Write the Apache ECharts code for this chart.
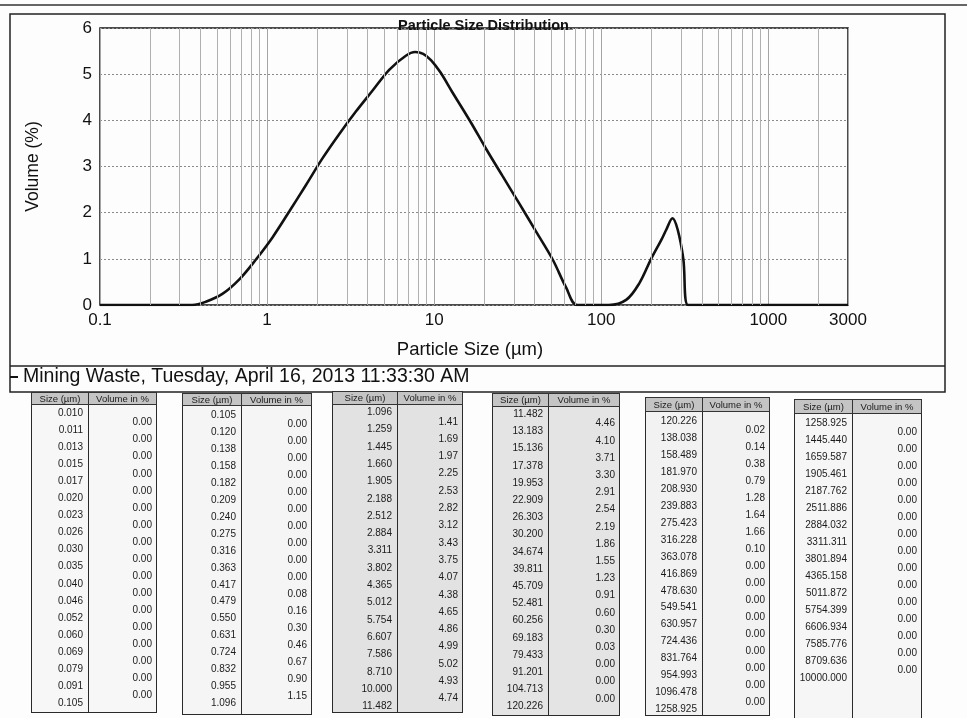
<!DOCTYPE html>
<html>
<head>
<meta charset="utf-8">
<script src="https://cdn.jsdelivr.net/npm/echarts@6/dist/echarts.min.js"></script>
<style>
html,body{margin:0;padding:0;background:#fdfdfd;width:967px;height:718px;overflow:hidden;}
#chart{position:absolute;left:0;top:0;width:967px;height:718px;}
.tbl{position:absolute;font-family:"Liberation Sans",Arial,sans-serif;color:#1a1a1a;}
.hd{position:absolute;background:#c4c4c4;border:1px solid #333;box-sizing:border-box;font-size:9.5px;text-align:center;white-space:nowrap;color:#1a1a1a;}
.bd{position:absolute;border:1.5px solid #2a2a2a;box-sizing:border-box;}
.dv{position:absolute;top:0;bottom:0;width:0;border-left:1.5px solid #2a2a2a;}
.tx{position:absolute;font-size:10px;line-height:12px;text-align:right;white-space:nowrap;}
</style>
</head>
<body>
<div id="chart"></div>
<div id="tables"></div>
<script>
// ---- curve ----
const curveSize = [0.1, 0.357, 0.43, 0.54, 0.68, 0.855, 1.08, 1.36, 1.71, 2.14, 2.70, 3.40, 4.27, 5.4, 6.77, 7.7, 8.6, 9.6, 10.9, 12.8, 16.5, 20.4, 25.7, 32.3, 40.6, 51.3, 61.6, 72, 111, 141, 169, 199, 229, 245, 267, 287, 310, 331, 3000];
const curveVolume = [0, 0, 0.07, 0.24, 0.55, 0.98, 1.47, 2.03, 2.60, 3.17, 3.70, 4.19, 4.64, 5.10, 5.40, 5.48, 5.44, 5.30, 5.04, 4.62, 3.97, 3.39, 2.79, 2.20, 1.60, 0.98, 0.38, 0, 0, 0.11, 0.47, 1.0, 1.41, 1.63, 1.88, 1.63, 1.0, 0, 0];

// ---- axis ticks ----
const xTickLabels = [0.1, 1, 10, 100, 1000, 3000];
const yTickLabels = [0, 1, 2, 3, 4, 5, 6];
const minorGrid = [0.2,0.3,0.4,0.5,0.6,0.7,0.8,0.9, 2,3,4,5,6,7,8,9, 20,30,40,50,60,70,80,90, 200,300,400,500,600,700,800,900, 2000];

// ---- result table (bin edges and volume per bin) ----
const binEdges = [
 "0.010","0.011","0.013","0.015","0.017","0.020","0.023","0.026","0.030","0.035","0.040","0.046","0.052","0.060","0.069","0.079","0.091",
 "0.105","0.120","0.138","0.158","0.182","0.209","0.240","0.275","0.316","0.363","0.417","0.479","0.550","0.631","0.724","0.832","0.955",
 "1.096","1.259","1.445","1.660","1.905","2.188","2.512","2.884","3.311","3.802","4.365","5.012","5.754","6.607","7.586","8.710","10.000",
 "11.482","13.183","15.136","17.378","19.953","22.909","26.303","30.200","34.674","39.811","45.709","52.481","60.256","69.183","79.433","91.201","104.713",
 "120.226","138.038","158.489","181.970","208.930","239.883","275.423","316.228","363.078","416.869","478.630","549.541","630.957","724.436","831.764","954.993","1096.478",
 "1258.925","1445.440","1659.587","1905.461","2187.762","2511.886","2884.032","3311.311","3801.894","4365.158","5011.872","5754.399","6606.934","7585.776","8709.636","10000.000"
];
const binVolumes = [
 0,0,0,0,0,0,0,0,0,0,0,0,0,0,0,0,0,
 0,0,0,0,0,0,0,0,0,0,0.08,0.16,0.30,0.46,0.67,0.90,1.15,
 1.41,1.69,1.97,2.25,2.53,2.82,3.12,3.43,3.75,4.07,4.38,4.65,4.86,4.99,5.02,4.93,4.74,
 4.46,4.10,3.71,3.30,2.91,2.54,2.19,1.86,1.55,1.23,0.91,0.60,0.30,0.03,0.00,0.00,0.00,
 0.02,0.14,0.38,0.79,1.28,1.64,1.66,0.10,0,0,0,0,0,0,0,0,0,
 0,0,0,0,0,0,0,0,0,0,0,0,0,0,0
];
const seriesName = 'Mining Waste, Tuesday, April 16, 2013 11:33:30 AM';
const chartTitle = 'Particle Size Distribution';
const headSize = 'Size (µm)';
const headVolume = 'Volume in %';

// ---- chart ----
const FONT = '"Liberation Sans", Arial, sans-serif';
const chart = echarts.init(document.getElementById('chart'), null, {renderer:'canvas'});
chart.setOption({
  animation:false,
  backgroundColor:'transparent',
  textStyle:{fontFamily:FONT},
  title:{text:chartTitle, left:'center', top:13, textStyle:{fontSize:14.5, fontWeight:'bold', color:'#111', fontFamily:FONT}},
  legend:{left:10, top:367, padding:0, icon:'rect', itemWidth:8, itemHeight:2, data:[seriesName],
          textStyle:{fontSize:19.5, color:'#111', fontFamily:FONT}},
  grid:{left:100, right:119, top:28, bottom:413, show:true, borderColor:'#111', borderWidth:1.5, backgroundColor:'transparent'},
  xAxis:{type:'log', logBase:10, min:xTickLabels[0], max:xTickLabels[xTickLabels.length-1],
         name:'Particle Size (µm)', nameLocation:'middle', nameGap:35,
         nameTextStyle:{fontSize:18.5, color:'#111', padding:[0,8,0,0]},
         axisLine:{show:false}, axisTick:{show:false},
         axisLabel:{fontSize:17, color:'#111', margin:7, showMinLabel:true, showMaxLabel:true,
                    formatter:v => { const m = xTickLabels.find(t => Math.abs(Math.log10(t) - Math.log10(v)) < 1e-6); return m === undefined ? '' : String(m); }},
         splitLine:{show:true, lineStyle:{color:'#a4a4a4', width:1}}},
  yAxis:{type:'value', min:yTickLabels[0], max:yTickLabels[yTickLabels.length-1], interval:1,
         name:'Volume (%)', nameLocation:'middle', nameGap:58,
         nameTextStyle:{fontSize:17.5, color:'#111'},
         axisLine:{show:false}, axisTick:{show:false},
         axisLabel:{fontSize:17, color:'#111', margin:8},
         splitLine:{show:true, lineStyle:{color:'#8a8a8a', width:1, type:[2,2]}}},
  series:[{
    type:'line', name:seriesName,
    data:curveSize.map((s,i) => [s, curveVolume[i]]),
    symbol:'none', smooth:0.35,
    lineStyle:{color:'#111', width:2.6}, itemStyle:{color:'#111'},
    markLine:{silent:true, symbol:['none','none'], label:{show:false},
              lineStyle:{color:'#b0b0b0', width:1, type:'solid'},
              emphasis:{disabled:true},
              data:minorGrid.map(v => ({xAxis:v}))},
    z:3
  }],
  graphic:[
    {type:'line', silent:true, shape:{x1:0, y1:5, x2:967, y2:5}, style:{stroke:'#666', lineWidth:2}},
    {type:'rect', silent:true, shape:{x:10, y:14, width:935, height:378}, style:{fill:'none', stroke:'#222', lineWidth:1.5}},
    {type:'line', silent:true, shape:{x1:10, y1:366, x2:945, y2:366}, style:{stroke:'#222', lineWidth:1.5}},
    {type:'line', silent:true, shape:{x1:397, y1:29, x2:573, y2:29}, style:{stroke:'#111', lineWidth:1}}
  ]
});

// ---- tables ----
const tableLayout = [
  {left:31,  mid:88,  right:157, top:392, head:13, row0:413, step:17.05, bottom:713, bg:'#f7f7f7'},
  {left:182, mid:241, right:312, top:393, head:13, row0:415, step:16.95, bottom:715, bg:'#f5f5f5'},
  {left:332, mid:397, right:463, top:391, head:14, row0:412, step:17.3,  bottom:713, bg:'#e2e2e2'},
  {left:492, mid:548, right:620, top:393, head:14, row0:414, step:17.2,  bottom:716, bg:'#e4e4e4'},
  {left:645, mid:702, right:770, top:397, head:15, row0:421, step:16.95, bottom:716, bg:'#f2f2f2'},
  {left:794, mid:852, right:922, top:399, head:15, row0:423, step:17.0,  bottom:722, bg:'#f6f6f6'}
];
const host = document.getElementById('tables');
tableLayout.forEach((L, t) => {
  const start = t * 17;
  const nEdges = t < 5 ? 18 : 16;
  const edges = binEdges.slice(start, start + nEdges);
  const vols = binVolumes.slice(start, start + nEdges - 1);
  const w = L.right - L.left;
  const box = document.createElement('div');
  box.className = 'tbl';
  box.style.left = L.left + 'px'; box.style.top = L.top + 'px';
  box.style.width = w + 'px'; box.style.height = (L.bottom - L.top) + 'px';
  const h1 = document.createElement('div');
  h1.className = 'hd'; h1.textContent = headSize;
  h1.style.left = '0px'; h1.style.top = '0px'; h1.style.width = (L.mid - L.left + 1) + 'px'; h1.style.height = L.head + 'px';
  h1.style.lineHeight = (L.head - 2) + 'px';
  const h2 = document.createElement('div');
  h2.className = 'hd'; h2.textContent = headVolume;
  h2.style.left = (L.mid - L.left) + 'px'; h2.style.top = '0px'; h2.style.width = (L.right - L.mid) + 'px'; h2.style.height = L.head + 'px';
  h2.style.lineHeight = (L.head - 2) + 'px';
  const bd = document.createElement('div');
  bd.className = 'bd';
  bd.style.left = '0px'; bd.style.top = (L.head - 1) + 'px'; bd.style.width = w + 'px';
  bd.style.height = (L.bottom - L.top - L.head + 1) + 'px'; bd.style.background = L.bg;
  const dv = document.createElement('div');
  dv.className = 'dv'; dv.style.left = (L.mid - L.left - 1.5) + 'px';
  bd.appendChild(dv);
  box.appendChild(bd); box.appendChild(h1); box.appendChild(h2);
  edges.forEach((e, k) => {
    const s = document.createElement('div');
    s.className = 'tx'; s.textContent = e;
    s.style.left = '0px'; s.style.width = (L.mid - L.left - 5) + 'px';
    s.style.top = (L.row0 + k * L.step - 6 - L.top) + 'px';
    box.appendChild(s);
  });
  vols.forEach((v, k) => {
    const s = document.createElement('div');
    s.className = 'tx'; s.textContent = v.toFixed(2);
    s.style.left = (L.mid - L.left) + 'px'; s.style.width = (L.right - L.mid - 5) + 'px';
    s.style.top = (L.row0 + (k + 0.55) * L.step - 6 - L.top) + 'px';
    box.appendChild(s);
  });
  host.appendChild(box);
});
</script>
</body>
</html>
